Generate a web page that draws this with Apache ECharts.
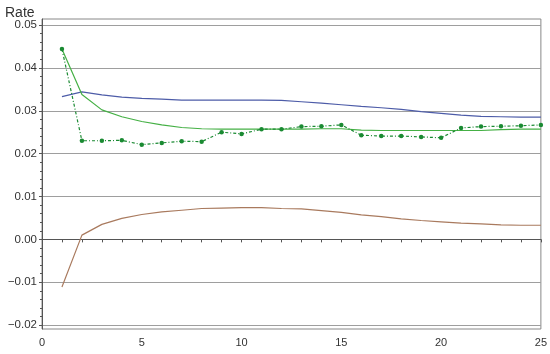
<!DOCTYPE html>
<html>
<head>
<meta charset="utf-8">
<script src="https://cdn.jsdelivr.net/npm/echarts@6/dist/echarts.min.js"></script>
<style>
  html, body { margin: 0; padding: 0; background: #fff; }
  #chart { width: 550px; height: 354px; }
</style>
</head>
<body>
<div id="chart"></div>
<script>
// periods on the x axis
var periods = [1, 2, 3, 4, 5, 6, 7, 8, 9, 10, 11, 12, 13, 14, 15, 16, 17, 18, 19, 20, 21, 22, 23, 24, 25];

// rate curves
var blueRate = [0.0333, 0.0344, 0.0337, 0.0332, 0.0329, 0.0327, 0.0325, 0.0325, 0.0325, 0.0325, 0.0325, 0.0324, 0.0321,
  0.0318, 0.0314, 0.0310, 0.0307, 0.0303, 0.0298, 0.0294, 0.0290, 0.0287, 0.0286, 0.0285, 0.0285];
var greenRate = [0.0444, 0.0338, 0.0302, 0.0286, 0.0275, 0.0267, 0.0261, 0.0258, 0.0257, 0.0257, 0.0257, 0.0257, 0.0257,
  0.0258, 0.0258, 0.0255, 0.0254, 0.0254, 0.0254, 0.0254, 0.0254, 0.0254, 0.0256, 0.0257, 0.0257];
var greenDotRate = [0.0444, 0.0230, 0.0230, 0.0231, 0.0221, 0.0225, 0.0229, 0.0228, 0.0250, 0.0246, 0.0257, 0.0257, 0.0263,
  0.0264, 0.0267, 0.0243, 0.0241, 0.0241, 0.0239, 0.0237, 0.0260, 0.0263, 0.0264, 0.0265, 0.0267];
var brownRate = [-0.0111, 0.0010, 0.0035, 0.0049, 0.0058, 0.0064, 0.0068, 0.0072, 0.0073, 0.0074, 0.0074, 0.0072, 0.0071,
  0.0067, 0.0063, 0.0057, 0.0053, 0.0048, 0.0044, 0.0041, 0.0038, 0.0036, 0.0034, 0.0033, 0.0033];

// y tick labels
var yTicks = [-0.02, -0.01, 0, 0.01, 0.02, 0.03, 0.04, 0.05];
var yMinorTicks = [];
for (var i = 0; i < yTicks.length - 1; i++) {
  for (var k = 1; k < 5; k++) {
    yMinorTicks.push(+(yTicks[i] + k * 0.002).toFixed(3));
  }
}

function pairs(ys) {
  return periods.map(function (p, i) { return [p, ys[i]]; });
}

var font = 'Liberation Sans, Arial, sans-serif';

var myChart = echarts.init(document.getElementById('chart'));
myChart.setOption({
  animation: false,
  title: {
    text: 'Rate',
    left: 0,
    top: 1,
    textStyle: { fontSize: 14, fontWeight: 'normal', color: '#333', fontFamily: font }
  },
  grid: {
    left: 42,
    right: 8,
    top: 19,
    bottom: 25,
    show: true,
    borderColor: '#888',
    borderWidth: 1,
    backgroundColor: 'transparent'
  },
  xAxis: {
    type: 'value',
    min: 0,
    max: 25,
    interval: 5,
    axisLine: { lineStyle: { color: '#555' } },
    axisTick: { length: 3, lineStyle: { color: '#555' } },
    minorTick: { show: true, splitNumber: 5, length: 3, lineStyle: { color: '#555' } },
    splitLine: { show: false },
    axisLabel: { fontSize: 11, color: '#333', fontFamily: font, margin: 8 }
  },
  yAxis: [
    {
      type: 'value',
      min: -0.0209,
      max: 0.0514,
      axisLine: { show: true, lineStyle: { color: '#555' } },
      axisTick: { length: 3, customValues: yTicks, lineStyle: { color: '#555' } },
      axisLabel: {
        customValues: yTicks,
        fontSize: 11.5,
        color: '#333',
        fontFamily: font,
        margin: 5,
        formatter: function (v) { return v.toFixed(2).replace('-', '\u2212'); }
      },
      splitLine: { show: true, lineStyle: { color: '#9e9e9e', width: 1 } }
    },
    {
      type: 'value',
      position: 'left',
      min: -0.0209,
      max: 0.0514,
      axisLine: { show: false },
      axisTick: { show: true, length: 2, customValues: yMinorTicks, lineStyle: { color: '#555' } },
      axisLabel: { show: false },
      splitLine: { show: false }
    }
  ],
  series: [
    {
      name: 'blue',
      type: 'line',
      data: pairs(blueRate),
      symbol: 'none',
      lineStyle: { color: '#4d5ca8', width: 1.2 },
      z: 3
    },
    {
      name: 'green',
      type: 'line',
      data: pairs(greenRate),
      symbol: 'none',
      lineStyle: { color: '#45b045', width: 1.2 },
      z: 3
    },
    {
      name: 'greenDot',
      type: 'line',
      data: pairs(greenDotRate),
      symbol: 'circle',
      symbolSize: 4.5,
      itemStyle: { color: '#1a8a32' },
      lineStyle: { color: '#1a8a32', width: 1.2, type: [3, 2, 1, 2] },
      z: 4
    },
    {
      name: 'brown',
      type: 'line',
      data: pairs(brownRate),
      symbol: 'none',
      lineStyle: { color: '#a97a5e', width: 1.2 },
      z: 3
    }
  ]
});
window.onresize = myChart.resize;
</script>
</body>
</html>
